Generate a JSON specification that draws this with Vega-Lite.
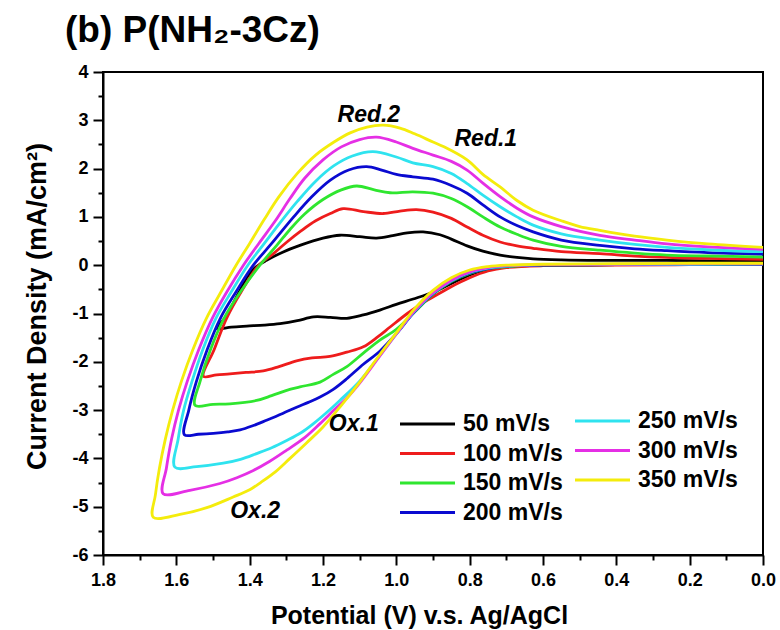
{
  "$schema": "https://vega.github.io/schema/vega-lite/v6.json",
  "width": 660,
  "height": 483,
  "autosize": {"type": "none"},
  "padding": {"left": 103, "top": 72, "right": 17, "bottom": 75},
  "background": "white",
  "config": {
    "font": "Liberation Sans",
    "view": {"stroke": "black", "strokeWidth": 2},
    "legend": {
      "orient": "none",
      "title": null,
      "symbolType": "M0,0H5",
      "symbolSize": 484,
      "symbolStrokeWidth": 2.8,
      "labelFont": "Liberation Sans",
      "labelFontSize": 23,
      "labelFontWeight": "bold",
      "labelColor": "black",
      "labelOffset": 50.5,
      "labelLimit": 0,
      "rowPadding": 4.5
    }
  },
  "title": {
    "text": "(b) P(NH₂-3Cz)",
    "anchor": "start",
    "frame": "group",
    "dx": -38,
    "offset": 13,
    "fontSize": 37,
    "fontWeight": "bold",
    "font": "Liberation Sans",
    "color": "black"
  },
  "datasets": {
    "cv": [
      {"s":"50 mV/s","k":0,"v":0,"j":0.08},{"s":"50 mV/s","k":1,"v":0.15,"j":0.09},{"s":"50 mV/s","k":2,"v":0.262,"j":0.10},{"s":"50 mV/s","k":3,"v":0.445,"j":0.10},{"s":"50 mV/s","k":4,"v":0.55,"j":0.11},{"s":"50 mV/s","k":5,"v":0.627,"j":0.13},{"s":"50 mV/s","k":6,"v":0.671,"j":0.16},{"s":"50 mV/s","k":7,"v":0.717,"j":0.21},{"s":"50 mV/s","k":8,"v":0.764,"j":0.29},{"s":"50 mV/s","k":9,"v":0.807,"j":0.40},{"s":"50 mV/s","k":10,"v":0.85,"j":0.54},{"s":"50 mV/s","k":11,"v":0.881,"j":0.63},{"s":"50 mV/s","k":12,"v":0.927,"j":0.69},{"s":"50 mV/s","k":13,"v":0.97,"j":0.67},{"s":"50 mV/s","k":14,"v":1.01,"j":0.61},{"s":"50 mV/s","k":15,"v":1.054,"j":0.56},{"s":"50 mV/s","k":16,"v":1.10,"j":0.59},{"s":"50 mV/s","k":17,"v":1.154,"j":0.62},{"s":"50 mV/s","k":18,"v":1.20,"j":0.56},{"s":"50 mV/s","k":19,"v":1.263,"j":0.41},{"s":"50 mV/s","k":20,"v":1.31,"j":0.27},{"s":"50 mV/s","k":21,"v":1.354,"j":0.10},{"s":"50 mV/s","k":22,"v":1.385,"j":-0.05},{"s":"50 mV/s","k":23,"v":1.405,"j":-0.22},{"s":"50 mV/s","k":24,"v":1.425,"j":-0.50},{"s":"50 mV/s","k":25,"v":1.447,"j":-0.82},{"s":"50 mV/s","k":26,"v":1.468,"j":-1.10},{"s":"50 mV/s","k":27,"v":1.49,"j":-1.31},{"s":"50 mV/s","k":28,"v":1.45,"j":-1.28},{"s":"50 mV/s","k":29,"v":1.408,"j":-1.26},{"s":"50 mV/s","k":30,"v":1.36,"j":-1.24},{"s":"50 mV/s","k":31,"v":1.317,"j":-1.21},{"s":"50 mV/s","k":32,"v":1.27,"j":-1.15},{"s":"50 mV/s","k":33,"v":1.226,"j":-1.07},{"s":"50 mV/s","k":34,"v":1.18,"j":-1.08},{"s":"50 mV/s","k":35,"v":1.135,"j":-1.10},{"s":"50 mV/s","k":36,"v":1.09,"j":-1.03},{"s":"50 mV/s","k":37,"v":1.045,"j":-0.93},{"s":"50 mV/s","k":38,"v":1.00,"j":-0.81},{"s":"50 mV/s","k":39,"v":0.954,"j":-0.70},{"s":"50 mV/s","k":40,"v":0.90,"j":-0.56},{"s":"50 mV/s","k":41,"v":0.85,"j":-0.38},{"s":"50 mV/s","k":42,"v":0.80,"j":-0.20},{"s":"50 mV/s","k":43,"v":0.75,"j":-0.08},{"s":"50 mV/s","k":44,"v":0.70,"j":-0.03},{"s":"50 mV/s","k":45,"v":0.60,"j":0.00},{"s":"50 mV/s","k":46,"v":0.40,"j":0.01},{"s":"50 mV/s","k":47,"v":0.20,"j":0.02},{"s":"50 mV/s","k":48,"v":0,"j":0.02},

      {"s":"100 mV/s","k":0,"v":0,"j":0.12},{"s":"100 mV/s","k":1,"v":0.15,"j":0.14},{"s":"100 mV/s","k":2,"v":0.262,"j":0.16},{"s":"100 mV/s","k":3,"v":0.35,"j":0.19},{"s":"100 mV/s","k":4,"v":0.445,"j":0.24},{"s":"100 mV/s","k":5,"v":0.55,"j":0.28},{"s":"100 mV/s","k":6,"v":0.627,"j":0.35},{"s":"100 mV/s","k":7,"v":0.671,"j":0.40},{"s":"100 mV/s","k":8,"v":0.717,"j":0.48},{"s":"100 mV/s","k":9,"v":0.764,"j":0.62},{"s":"100 mV/s","k":10,"v":0.807,"j":0.79},{"s":"100 mV/s","k":11,"v":0.85,"j":0.97},{"s":"100 mV/s","k":12,"v":0.90,"j":1.10},{"s":"100 mV/s","k":13,"v":0.945,"j":1.15},{"s":"100 mV/s","k":14,"v":0.99,"j":1.12},{"s":"100 mV/s","k":15,"v":1.036,"j":1.07},{"s":"100 mV/s","k":16,"v":1.09,"j":1.11},{"s":"100 mV/s","k":17,"v":1.145,"j":1.17},{"s":"100 mV/s","k":18,"v":1.18,"j":1.07},{"s":"100 mV/s","k":19,"v":1.22,"j":0.92},{"s":"100 mV/s","k":20,"v":1.26,"j":0.71},{"s":"100 mV/s","k":21,"v":1.30,"j":0.47},{"s":"100 mV/s","k":22,"v":1.335,"j":0.24},{"s":"100 mV/s","k":23,"v":1.375,"j":0.0},{"s":"100 mV/s","k":24,"v":1.423,"j":-0.55},{"s":"100 mV/s","k":25,"v":1.463,"j":-1.1},{"s":"100 mV/s","k":26,"v":1.497,"j":-1.75},{"s":"100 mV/s","k":27,"v":1.526,"j":-2.30},{"s":"100 mV/s","k":28,"v":1.49,"j":-2.27},{"s":"100 mV/s","k":29,"v":1.454,"j":-2.25},{"s":"100 mV/s","k":30,"v":1.41,"j":-2.22},{"s":"100 mV/s","k":31,"v":1.363,"j":-2.19},{"s":"100 mV/s","k":32,"v":1.32,"j":-2.10},{"s":"100 mV/s","k":33,"v":1.272,"j":-1.98},{"s":"100 mV/s","k":34,"v":1.23,"j":-1.92},{"s":"100 mV/s","k":35,"v":1.181,"j":-1.89},{"s":"100 mV/s","k":36,"v":1.135,"j":-1.80},{"s":"100 mV/s","k":37,"v":1.09,"j":-1.69},{"s":"100 mV/s","k":38,"v":1.05,"j":-1.48},{"s":"100 mV/s","k":39,"v":1.017,"j":-1.28},{"s":"100 mV/s","k":40,"v":0.97,"j":-1.00},{"s":"100 mV/s","k":41,"v":0.93,"j":-0.79},{"s":"100 mV/s","k":42,"v":0.90,"j":-0.66},{"s":"100 mV/s","k":43,"v":0.854,"j":-0.46},{"s":"100 mV/s","k":44,"v":0.80,"j":-0.26},{"s":"100 mV/s","k":45,"v":0.75,"j":-0.12},{"s":"100 mV/s","k":46,"v":0.70,"j":-0.05},{"s":"100 mV/s","k":47,"v":0.60,"j":-0.01},{"s":"100 mV/s","k":48,"v":0.40,"j":0.00},{"s":"100 mV/s","k":49,"v":0.20,"j":0.01},{"s":"100 mV/s","k":50,"v":0,"j":0.01},

      {"s":"150 mV/s","k":0,"v":0,"j":0.17},{"s":"150 mV/s","k":1,"v":0.15,"j":0.19},{"s":"150 mV/s","k":2,"v":0.262,"j":0.21},{"s":"150 mV/s","k":3,"v":0.35,"j":0.25},{"s":"150 mV/s","k":4,"v":0.445,"j":0.31},{"s":"150 mV/s","k":5,"v":0.55,"j":0.39},{"s":"150 mV/s","k":6,"v":0.627,"j":0.52},{"s":"150 mV/s","k":7,"v":0.671,"j":0.64},{"s":"150 mV/s","k":8,"v":0.717,"j":0.79},{"s":"150 mV/s","k":9,"v":0.764,"j":1.00},{"s":"150 mV/s","k":10,"v":0.807,"j":1.21},{"s":"150 mV/s","k":11,"v":0.85,"j":1.38},{"s":"150 mV/s","k":12,"v":0.90,"j":1.49},{"s":"150 mV/s","k":13,"v":0.955,"j":1.52},{"s":"150 mV/s","k":14,"v":1.017,"j":1.50},{"s":"150 mV/s","k":15,"v":1.06,"j":1.56},{"s":"150 mV/s","k":16,"v":1.108,"j":1.64},{"s":"150 mV/s","k":17,"v":1.15,"j":1.56},{"s":"150 mV/s","k":18,"v":1.20,"j":1.36},{"s":"150 mV/s","k":19,"v":1.25,"j":1.06},{"s":"150 mV/s","k":20,"v":1.29,"j":0.74},{"s":"150 mV/s","k":21,"v":1.325,"j":0.42},{"s":"150 mV/s","k":22,"v":1.372,"j":0.0},{"s":"150 mV/s","k":23,"v":1.425,"j":-0.55},{"s":"150 mV/s","k":24,"v":1.47,"j":-1.1},{"s":"150 mV/s","k":25,"v":1.507,"j":-1.75},{"s":"150 mV/s","k":26,"v":1.535,"j":-2.4},{"s":"150 mV/s","k":27,"v":1.549,"j":-2.90},{"s":"150 mV/s","k":28,"v":1.50,"j":-2.88},{"s":"150 mV/s","k":29,"v":1.454,"j":-2.87},{"s":"150 mV/s","k":30,"v":1.381,"j":-2.80},{"s":"150 mV/s","k":31,"v":1.34,"j":-2.70},{"s":"150 mV/s","k":32,"v":1.299,"j":-2.59},{"s":"150 mV/s","k":33,"v":1.263,"j":-2.52},{"s":"150 mV/s","k":34,"v":1.208,"j":-2.42},{"s":"150 mV/s","k":35,"v":1.172,"j":-2.26},{"s":"150 mV/s","k":36,"v":1.135,"j":-2.10},{"s":"150 mV/s","k":37,"v":1.09,"j":-1.82},{"s":"150 mV/s","k":38,"v":1.045,"j":-1.55},{"s":"150 mV/s","k":39,"v":1.00,"j":-1.33},{"s":"150 mV/s","k":40,"v":0.95,"j":-0.97},{"s":"150 mV/s","k":41,"v":0.90,"j":-0.60},{"s":"150 mV/s","k":42,"v":0.85,"j":-0.34},{"s":"150 mV/s","k":43,"v":0.80,"j":-0.17},{"s":"150 mV/s","k":44,"v":0.75,"j":-0.07},{"s":"150 mV/s","k":45,"v":0.70,"j":-0.03},{"s":"150 mV/s","k":46,"v":0.60,"j":0.00},{"s":"150 mV/s","k":47,"v":0.40,"j":0.01},{"s":"150 mV/s","k":48,"v":0.20,"j":0.02},{"s":"150 mV/s","k":49,"v":0,"j":0.02},

      {"s":"200 mV/s","k":0,"v":0,"j":0.23},{"s":"200 mV/s","k":1,"v":0.15,"j":0.26},{"s":"200 mV/s","k":2,"v":0.262,"j":0.30},{"s":"200 mV/s","k":3,"v":0.35,"j":0.34},{"s":"200 mV/s","k":4,"v":0.445,"j":0.41},{"s":"200 mV/s","k":5,"v":0.55,"j":0.52},{"s":"200 mV/s","k":6,"v":0.627,"j":0.69},{"s":"200 mV/s","k":7,"v":0.671,"j":0.82},{"s":"200 mV/s","k":8,"v":0.717,"j":1.00},{"s":"200 mV/s","k":9,"v":0.764,"j":1.25},{"s":"200 mV/s","k":10,"v":0.807,"j":1.49},{"s":"200 mV/s","k":11,"v":0.85,"j":1.65},{"s":"200 mV/s","k":12,"v":0.90,"j":1.78},{"s":"200 mV/s","k":13,"v":0.955,"j":1.83},{"s":"200 mV/s","k":14,"v":1.00,"j":1.88},{"s":"200 mV/s","k":15,"v":1.04,"j":1.97},{"s":"200 mV/s","k":16,"v":1.081,"j":2.04},{"s":"200 mV/s","k":17,"v":1.13,"j":1.97},{"s":"200 mV/s","k":18,"v":1.18,"j":1.76},{"s":"200 mV/s","k":19,"v":1.23,"j":1.42},{"s":"200 mV/s","k":20,"v":1.28,"j":1.00},{"s":"200 mV/s","k":21,"v":1.34,"j":0.45},{"s":"200 mV/s","k":22,"v":1.39,"j":0.0},{"s":"200 mV/s","k":23,"v":1.437,"j":-0.55},{"s":"200 mV/s","k":24,"v":1.48,"j":-1.1},{"s":"200 mV/s","k":25,"v":1.516,"j":-1.75},{"s":"200 mV/s","k":26,"v":1.545,"j":-2.4},{"s":"200 mV/s","k":27,"v":1.566,"j":-3.0},{"s":"200 mV/s","k":28,"v":1.578,"j":-3.51},{"s":"200 mV/s","k":29,"v":1.54,"j":-3.50},{"s":"200 mV/s","k":30,"v":1.499,"j":-3.48},{"s":"200 mV/s","k":31,"v":1.46,"j":-3.45},{"s":"200 mV/s","k":32,"v":1.426,"j":-3.41},{"s":"200 mV/s","k":33,"v":1.39,"j":-3.32},{"s":"200 mV/s","k":34,"v":1.354,"j":-3.21},{"s":"200 mV/s","k":35,"v":1.31,"j":-3.07},{"s":"200 mV/s","k":36,"v":1.272,"j":-2.94},{"s":"200 mV/s","k":37,"v":1.24,"j":-2.84},{"s":"200 mV/s","k":38,"v":1.208,"j":-2.73},{"s":"200 mV/s","k":39,"v":1.172,"j":-2.57},{"s":"200 mV/s","k":40,"v":1.135,"j":-2.35},{"s":"200 mV/s","k":41,"v":1.09,"j":-2.05},{"s":"200 mV/s","k":42,"v":1.045,"j":-1.78},{"s":"200 mV/s","k":43,"v":1.00,"j":-1.42},{"s":"200 mV/s","k":44,"v":0.95,"j":-0.96},{"s":"200 mV/s","k":45,"v":0.90,"j":-0.59},{"s":"200 mV/s","k":46,"v":0.85,"j":-0.33},{"s":"200 mV/s","k":47,"v":0.80,"j":-0.16},{"s":"200 mV/s","k":48,"v":0.75,"j":-0.07},{"s":"200 mV/s","k":49,"v":0.70,"j":-0.02},{"s":"200 mV/s","k":50,"v":0.60,"j":0.00},{"s":"200 mV/s","k":51,"v":0.40,"j":0.01},{"s":"200 mV/s","k":52,"v":0.20,"j":0.02},{"s":"200 mV/s","k":53,"v":0,"j":0.02},

      {"s":"250 mV/s","k":0,"v":0,"j":0.28},{"s":"250 mV/s","k":1,"v":0.15,"j":0.32},{"s":"250 mV/s","k":2,"v":0.262,"j":0.37},{"s":"250 mV/s","k":3,"v":0.35,"j":0.43},{"s":"250 mV/s","k":4,"v":0.445,"j":0.52},{"s":"250 mV/s","k":5,"v":0.55,"j":0.65},{"s":"250 mV/s","k":6,"v":0.627,"j":0.83},{"s":"250 mV/s","k":7,"v":0.671,"j":1.00},{"s":"250 mV/s","k":8,"v":0.717,"j":1.21},{"s":"250 mV/s","k":9,"v":0.764,"j":1.45},{"s":"250 mV/s","k":10,"v":0.807,"j":1.69},{"s":"250 mV/s","k":11,"v":0.85,"j":1.90},{"s":"250 mV/s","k":12,"v":0.90,"j":2.04},{"s":"250 mV/s","k":13,"v":0.955,"j":2.12},{"s":"250 mV/s","k":14,"v":1.00,"j":2.24},{"s":"250 mV/s","k":15,"v":1.064,"j":2.35},{"s":"250 mV/s","k":16,"v":1.12,"j":2.26},{"s":"250 mV/s","k":17,"v":1.17,"j":2.06},{"s":"250 mV/s","k":18,"v":1.22,"j":1.74},{"s":"250 mV/s","k":19,"v":1.27,"j":1.32},{"s":"250 mV/s","k":20,"v":1.32,"j":0.85},{"s":"250 mV/s","k":21,"v":1.36,"j":0.45},{"s":"250 mV/s","k":22,"v":1.405,"j":0.0},{"s":"250 mV/s","k":23,"v":1.45,"j":-0.55},{"s":"250 mV/s","k":24,"v":1.492,"j":-1.1},{"s":"250 mV/s","k":25,"v":1.528,"j":-1.75},{"s":"250 mV/s","k":26,"v":1.557,"j":-2.4},{"s":"250 mV/s","k":27,"v":1.58,"j":-3.0},{"s":"250 mV/s","k":28,"v":1.595,"j":-3.6},{"s":"250 mV/s","k":29,"v":1.604,"j":-4.18},{"s":"250 mV/s","k":30,"v":1.545,"j":-4.17},{"s":"250 mV/s","k":31,"v":1.472,"j":-4.10},{"s":"250 mV/s","k":32,"v":1.425,"j":-4.02},{"s":"250 mV/s","k":33,"v":1.381,"j":-3.90},{"s":"250 mV/s","k":34,"v":1.34,"j":-3.78},{"s":"250 mV/s","k":35,"v":1.299,"j":-3.63},{"s":"250 mV/s","k":36,"v":1.26,"j":-3.47},{"s":"250 mV/s","k":37,"v":1.226,"j":-3.28},{"s":"250 mV/s","k":38,"v":1.19,"j":-3.05},{"s":"250 mV/s","k":39,"v":1.154,"j":-2.80},{"s":"250 mV/s","k":40,"v":1.10,"j":-2.40},{"s":"250 mV/s","k":41,"v":1.05,"j":-1.92},{"s":"250 mV/s","k":42,"v":1.00,"j":-1.42},{"s":"250 mV/s","k":43,"v":0.95,"j":-0.95},{"s":"250 mV/s","k":44,"v":0.90,"j":-0.58},{"s":"250 mV/s","k":45,"v":0.85,"j":-0.32},{"s":"250 mV/s","k":46,"v":0.80,"j":-0.15},{"s":"250 mV/s","k":47,"v":0.75,"j":-0.06},{"s":"250 mV/s","k":48,"v":0.70,"j":-0.02},{"s":"250 mV/s","k":49,"v":0.60,"j":0.01},{"s":"250 mV/s","k":50,"v":0.40,"j":0.02},{"s":"250 mV/s","k":51,"v":0.20,"j":0.02},{"s":"250 mV/s","k":52,"v":0,"j":0.03},

      {"s":"300 mV/s","k":0,"v":0,"j":0.33},{"s":"300 mV/s","k":1,"v":0.15,"j":0.38},{"s":"300 mV/s","k":2,"v":0.262,"j":0.44},{"s":"300 mV/s","k":3,"v":0.35,"j":0.52},{"s":"300 mV/s","k":4,"v":0.445,"j":0.62},{"s":"300 mV/s","k":5,"v":0.55,"j":0.80},{"s":"300 mV/s","k":6,"v":0.627,"j":1.00},{"s":"300 mV/s","k":7,"v":0.671,"j":1.18},{"s":"300 mV/s","k":8,"v":0.717,"j":1.42},{"s":"300 mV/s","k":9,"v":0.764,"j":1.70},{"s":"300 mV/s","k":10,"v":0.807,"j":1.97},{"s":"300 mV/s","k":11,"v":0.85,"j":2.15},{"s":"300 mV/s","k":12,"v":0.90,"j":2.28},{"s":"300 mV/s","k":13,"v":0.955,"j":2.42},{"s":"300 mV/s","k":14,"v":1.00,"j":2.55},{"s":"300 mV/s","k":15,"v":1.054,"j":2.65},{"s":"300 mV/s","k":16,"v":1.10,"j":2.60},{"s":"300 mV/s","k":17,"v":1.15,"j":2.45},{"s":"300 mV/s","k":18,"v":1.20,"j":2.18},{"s":"300 mV/s","k":19,"v":1.25,"j":1.80},{"s":"300 mV/s","k":20,"v":1.29,"j":1.38},{"s":"300 mV/s","k":21,"v":1.33,"j":0.92},{"s":"300 mV/s","k":22,"v":1.375,"j":0.45},{"s":"300 mV/s","k":23,"v":1.417,"j":0.0},{"s":"300 mV/s","k":24,"v":1.462,"j":-0.55},{"s":"300 mV/s","k":25,"v":1.502,"j":-1.1},{"s":"300 mV/s","k":26,"v":1.539,"j":-1.75},{"s":"300 mV/s","k":27,"v":1.57,"j":-2.4},{"s":"300 mV/s","k":28,"v":1.594,"j":-3.0},{"s":"300 mV/s","k":29,"v":1.613,"j":-3.6},{"s":"300 mV/s","k":30,"v":1.627,"j":-4.2},{"s":"300 mV/s","k":31,"v":1.636,"j":-4.73},{"s":"300 mV/s","k":32,"v":1.563,"j":-4.66},{"s":"300 mV/s","k":33,"v":1.481,"j":-4.52},{"s":"300 mV/s","k":34,"v":1.435,"j":-4.40},{"s":"300 mV/s","k":35,"v":1.39,"j":-4.25},{"s":"300 mV/s","k":36,"v":1.345,"j":-4.06},{"s":"300 mV/s","k":37,"v":1.299,"j":-3.83},{"s":"300 mV/s","k":38,"v":1.25,"j":-3.57},{"s":"300 mV/s","k":39,"v":1.208,"j":-3.28},{"s":"300 mV/s","k":40,"v":1.17,"j":-3.00},{"s":"300 mV/s","k":41,"v":1.135,"j":-2.75},{"s":"300 mV/s","k":42,"v":1.10,"j":-2.44},{"s":"300 mV/s","k":43,"v":1.05,"j":-1.93},{"s":"300 mV/s","k":44,"v":1.00,"j":-1.42},{"s":"300 mV/s","k":45,"v":0.95,"j":-0.94},{"s":"300 mV/s","k":46,"v":0.90,"j":-0.57},{"s":"300 mV/s","k":47,"v":0.85,"j":-0.31},{"s":"300 mV/s","k":48,"v":0.80,"j":-0.14},{"s":"300 mV/s","k":49,"v":0.75,"j":-0.05},{"s":"300 mV/s","k":50,"v":0.70,"j":-0.01},{"s":"300 mV/s","k":51,"v":0.60,"j":0.01},{"s":"300 mV/s","k":52,"v":0.40,"j":0.02},{"s":"300 mV/s","k":53,"v":0.20,"j":0.03},{"s":"300 mV/s","k":54,"v":0,"j":0.03},

      {"s":"350 mV/s","k":0,"v":0,"j":0.37},{"s":"350 mV/s","k":1,"v":0.15,"j":0.44},{"s":"350 mV/s","k":2,"v":0.262,"j":0.52},{"s":"350 mV/s","k":3,"v":0.35,"j":0.60},{"s":"350 mV/s","k":4,"v":0.445,"j":0.72},{"s":"350 mV/s","k":5,"v":0.50,"j":0.80},{"s":"350 mV/s","k":6,"v":0.55,"j":0.92},{"s":"350 mV/s","k":7,"v":0.627,"j":1.14},{"s":"350 mV/s","k":8,"v":0.671,"j":1.34},{"s":"350 mV/s","k":9,"v":0.717,"j":1.62},{"s":"350 mV/s","k":10,"v":0.764,"j":1.88},{"s":"350 mV/s","k":11,"v":0.807,"j":2.18},{"s":"350 mV/s","k":12,"v":0.87,"j":2.45},{"s":"350 mV/s","k":13,"v":0.90,"j":2.55},{"s":"350 mV/s","k":14,"v":0.95,"j":2.72},{"s":"350 mV/s","k":15,"v":0.99,"j":2.84},{"s":"350 mV/s","k":16,"v":1.036,"j":2.90},{"s":"350 mV/s","k":17,"v":1.08,"j":2.86},{"s":"350 mV/s","k":18,"v":1.126,"j":2.74},{"s":"350 mV/s","k":19,"v":1.17,"j":2.55},{"s":"350 mV/s","k":20,"v":1.22,"j":2.28},{"s":"350 mV/s","k":21,"v":1.27,"j":1.90},{"s":"350 mV/s","k":22,"v":1.32,"j":1.42},{"s":"350 mV/s","k":23,"v":1.36,"j":0.95},{"s":"350 mV/s","k":24,"v":1.40,"j":0.45},{"s":"350 mV/s","k":25,"v":1.437,"j":0.0},{"s":"350 mV/s","k":26,"v":1.478,"j":-0.55},{"s":"350 mV/s","k":27,"v":1.518,"j":-1.1},{"s":"350 mV/s","k":28,"v":1.555,"j":-1.75},{"s":"350 mV/s","k":29,"v":1.586,"j":-2.4},{"s":"350 mV/s","k":30,"v":1.61,"j":-3.0},{"s":"350 mV/s","k":31,"v":1.63,"j":-3.6},{"s":"350 mV/s","k":32,"v":1.646,"j":-4.2},{"s":"350 mV/s","k":33,"v":1.657,"j":-4.75},{"s":"350 mV/s","k":34,"v":1.663,"j":-5.22},{"s":"350 mV/s","k":35,"v":1.59,"j":-5.16},{"s":"350 mV/s","k":36,"v":1.517,"j":-5.02},{"s":"350 mV/s","k":37,"v":1.445,"j":-4.80},{"s":"350 mV/s","k":38,"v":1.40,"j":-4.65},{"s":"350 mV/s","k":39,"v":1.37,"j":-4.50},{"s":"350 mV/s","k":40,"v":1.33,"j":-4.28},{"s":"350 mV/s","k":41,"v":1.29,"j":-4.00},{"s":"350 mV/s","k":42,"v":1.245,"j":-3.68},{"s":"350 mV/s","k":43,"v":1.20,"j":-3.35},{"s":"350 mV/s","k":44,"v":1.15,"j":-2.90},{"s":"350 mV/s","k":45,"v":1.10,"j":-2.42},{"s":"350 mV/s","k":46,"v":1.05,"j":-1.90},{"s":"350 mV/s","k":47,"v":1.00,"j":-1.40},{"s":"350 mV/s","k":48,"v":0.95,"j":-0.90},{"s":"350 mV/s","k":49,"v":0.90,"j":-0.52},{"s":"350 mV/s","k":50,"v":0.85,"j":-0.26},{"s":"350 mV/s","k":51,"v":0.80,"j":-0.10},{"s":"350 mV/s","k":52,"v":0.75,"j":-0.03},{"s":"350 mV/s","k":53,"v":0.70,"j":0.00},{"s":"350 mV/s","k":54,"v":0.60,"j":0.02},{"s":"350 mV/s","k":55,"v":0.40,"j":0.03},{"s":"350 mV/s","k":56,"v":0.20,"j":0.04},{"s":"350 mV/s","k":57,"v":0,"j":0.04}
    ],
    "notes": [
      {"label": "Red.2", "v": 1.075, "j": 3.11},
      {"label": "Red.1", "v": 0.756, "j": 2.62},
      {"label": "Ox.1", "v": 1.116, "j": -3.28},
      {"label": "Ox.2", "v": 1.385, "j": -5.08}
    ]
  },
  "encoding": {
    "x": {
      "field": "v",
      "type": "quantitative",
      "scale": {"domain": [0, 1.8], "reverse": true, "nice": false, "zero": false},
      "axis": {
        "title": "Potential (V) v.s. Ag/AgCl",
        "titleX": 316,
        "titleAlign": "center",
        "values": [0, 0.1, 0.2, 0.3, 0.4, 0.5, 0.6, 0.7, 0.8, 0.9, 1.0, 1.1, 1.2, 1.3, 1.4, 1.5, 1.6, 1.7, 1.8],
        "labelExpr": "round(datum.value * 10) % 2 === 0 ? format(datum.value, '.1f') : ''",
        "tickSize": {"condition": {"test": "round(datum.value * 10) % 2 === 0", "value": 10}, "value": 5},
        "tickWidth": 2,
        "tickColor": "black",
        "domainColor": "black",
        "domainWidth": 2,
        "grid": false,
        "labelFont": "Liberation Sans",
        "labelFontSize": 18,
        "labelFontWeight": "bold",
        "labelColor": "black",
        "labelPadding": 6,
        "labelFlush": false,
        "labelOverlap": false,
        "titleFont": "Liberation Sans",
        "titleFontSize": 25,
        "titleFontWeight": "bold",
        "titleColor": "black",
        "titlePadding": 14
      }
    },
    "y": {
      "field": "j",
      "type": "quantitative",
      "scale": {"domain": [-6, 4], "nice": false, "zero": false},
      "axis": {
        "title": "Current Density (mA/cm²)",
        "titleY": 234,
        "titleAlign": "center",
        "values": [-6, -5.5, -5, -4.5, -4, -3.5, -3, -2.5, -2, -1.5, -1, -0.5, 0, 0.5, 1, 1.5, 2, 2.5, 3, 3.5, 4],
        "labelExpr": "datum.value % 1 === 0 ? '' + datum.value : ''",
        "tickSize": {"condition": {"test": "datum.value % 1 === 0", "value": 10}, "value": 5},
        "tickWidth": 2,
        "tickColor": "black",
        "domainColor": "black",
        "domainWidth": 2,
        "grid": false,
        "labelFont": "Liberation Sans",
        "labelFontSize": 18,
        "labelFontWeight": "bold",
        "labelColor": "black",
        "labelPadding": 5,
        "labelFlush": false,
        "labelOverlap": false,
        "titleFont": "Liberation Sans",
        "titleFontSize": 27,
        "titleFontWeight": "bold",
        "titleColor": "black",
        "titlePadding": 20
      }
    }
  },
  "layer": [
    {
      "data": {"name": "cv"},
      "transform": [{"filter": {"field": "s", "oneOf": ["50 mV/s", "100 mV/s", "150 mV/s", "200 mV/s"]}}],
      "mark": {"type": "line", "interpolate": "catmull-rom", "strokeWidth": 2.8},
      "encoding": {
        "color": {
          "field": "s",
          "type": "nominal",
          "scale": {
            "domain": ["50 mV/s", "100 mV/s", "150 mV/s", "200 mV/s"],
            "range": ["#000000", "#ee1c1c", "#2fe62f", "#0a0ad0"]
          },
          "legend": {"legendX": 284.5, "legendY": 339.5}
        },
        "order": {"field": "k", "type": "quantitative"}
      }
    },
    {
      "data": {"name": "cv"},
      "transform": [{"filter": {"field": "s", "oneOf": ["250 mV/s", "300 mV/s", "350 mV/s"]}}],
      "mark": {"type": "line", "interpolate": "catmull-rom", "strokeWidth": 2.8},
      "encoding": {
        "color": {
          "field": "s",
          "type": "nominal",
          "scale": {
            "domain": ["250 mV/s", "300 mV/s", "350 mV/s"],
            "range": ["#2fe3ef", "#e52fe5", "#f4ec0c"]
          },
          "legend": {"legendX": 459.5, "legendY": 336.5}
        },
        "order": {"field": "k", "type": "quantitative"}
      }
    },
    {
      "data": {"name": "notes"},
      "mark": {"type": "text", "font": "Liberation Sans", "fontSize": 23, "fontWeight": "bold", "fontStyle": "italic", "color": "black"},
      "encoding": {
        "text": {"field": "label"}
      }
    }
  ],
  "resolve": {"scale": {"color": "independent"}}
}
